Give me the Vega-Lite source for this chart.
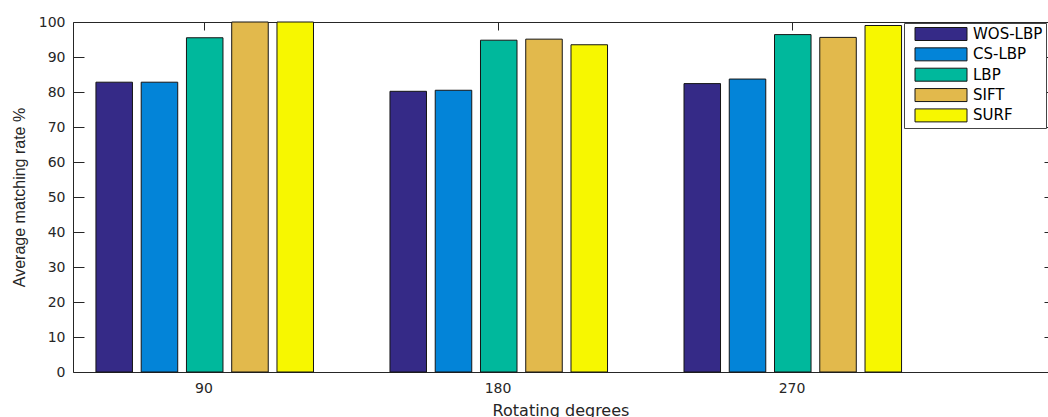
{
  "$schema": "https://vega.github.io/schema/vega-lite/v6.json",
  "width": 975,
  "height": 350,
  "autosize": {"type": "none"},
  "padding": {"left": 73, "top": 22, "right": 0, "bottom": 45},
  "background": "white",
  "config": {
    "view": {"stroke": null},
    "font": "DejaVu Sans",
    "axis": {
      "grid": false,
      "domainColor": "#262626",
      "domainWidth": 1,
      "tickColor": "#262626",
      "tickWidth": 1,
      "labelColor": "#262626",
      "labelFont": "DejaVu Sans",
      "labelFontSize": 14,
      "titleColor": "#262626",
      "titleFontWeight": "normal"
    }
  },
  "data": {
    "values": [
      {"degree": "90", "method": "WOS-LBP", "rate": 82.8},
      {"degree": "90", "method": "CS-LBP", "rate": 82.8},
      {"degree": "90", "method": "LBP", "rate": 95.5},
      {"degree": "90", "method": "SIFT", "rate": 100},
      {"degree": "90", "method": "SURF", "rate": 100},
      {"degree": "180", "method": "WOS-LBP", "rate": 80.2},
      {"degree": "180", "method": "CS-LBP", "rate": 80.5},
      {"degree": "180", "method": "LBP", "rate": 94.8},
      {"degree": "180", "method": "SIFT", "rate": 95.1},
      {"degree": "180", "method": "SURF", "rate": 93.5},
      {"degree": "270", "method": "WOS-LBP", "rate": 82.4},
      {"degree": "270", "method": "CS-LBP", "rate": 83.7},
      {"degree": "270", "method": "LBP", "rate": 96.4},
      {"degree": "270", "method": "SIFT", "rate": 95.6},
      {"degree": "270", "method": "SURF", "rate": 99.0}
    ]
  },
  "layer": [
    {
      "mark": {"type": "bar", "stroke": "#151515", "strokeWidth": 1, "opacity": 1},
      "encoding": {
        "x": {
          "field": "degree",
          "type": "nominal",
          "sort": ["90", "180", "270"],
          "scale": {"type": "band", "paddingInner": 0, "paddingOuter": 0.158, "align": 0},
          "axis": {
            "orient": "bottom",
            "title": "Rotating degrees",
            "titleFont": "DejaVu Sans",
            "titleFontSize": 16,
            "titleY": 30,
            "titleBaseline": "top",
            "labelAngle": 0,
            "tickSize": -8,
            "labelPadding": 17.5,
            "labelOffset": -16,
            "bandPosition": 0.447
          }
        },
        "xOffset": {
          "field": "method",
          "type": "nominal",
          "sort": ["WOS-LBP", "CS-LBP", "LBP", "SIFT", "SURF"],
          "scale": {"paddingInner": 0.193, "paddingOuter": 0.845, "align": 0.3}
        },
        "y": {
          "field": "rate",
          "type": "quantitative",
          "scale": {"domain": [0, 100], "nice": false, "zero": true},
          "axis": {
            "orient": "left",
            "title": "Average matching rate %",
            "titleFont": "Liberation Sans",
            "titleFontSize": 16,
            "titleX": -53.5,
            "titleY": 175,
            "titleAngle": -90,
            "titleAlign": "center",
            "titleBaseline": "middle",
            "values": [0, 10, 20, 30, 40, 50, 60, 70, 80, 90, 100],
            "tickSize": -11,
            "labelPadding": 19
          }
        },
        "color": {
          "field": "method",
          "type": "nominal",
          "sort": ["WOS-LBP", "CS-LBP", "LBP", "SIFT", "SURF"],
          "scale": {
            "domain": ["WOS-LBP", "CS-LBP", "LBP", "SIFT", "SURF"],
            "range": ["#352a87", "#0384d8", "#00b89c", "#e2b94c", "#f7f700"]
          },
          "legend": {
            "orient": "none",
            "legendX": 831,
            "legendY": 1,
            "title": null,
            "fillColor": "white",
            "strokeColor": "#444444",
            "padding": 3.5,
            "symbolType": "M-4,-1H4V1H-4Z",
            "symbolSize": 169,
            "symbolOffset": 26,
            "symbolStrokeColor": "#151515",
            "symbolStrokeWidth": 1,
            "symbolOpacity": 1,
            "labelFont": "DejaVu Sans",
            "labelFontSize": 15,
            "labelColor": "#000000",
            "labelOffset": 24.5,
            "rowPadding": 3.35
          }
        }
      }
    },
    {
      "mark": {"type": "bar", "opacity": 0},
      "encoding": {
        "x": {
          "field": "degree",
          "type": "nominal",
          "sort": ["90", "180", "270"],
          "axis": {
            "orient": "top",
            "title": null,
            "labels": false,
            "tickSize": -8,
            "bandPosition": 0.447
          }
        },
        "y": {
          "field": "rate",
          "type": "quantitative",
          "axis": {
            "orient": "right",
            "title": null,
            "labels": false,
            "domain": false,
            "values": [0, 10, 20, 30, 40, 50, 60, 70, 80, 90, 100],
            "tickSize": -4
          }
        }
      }
    }
  ],
  "resolve": {"axis": {"x": "independent", "y": "independent"}}
}
